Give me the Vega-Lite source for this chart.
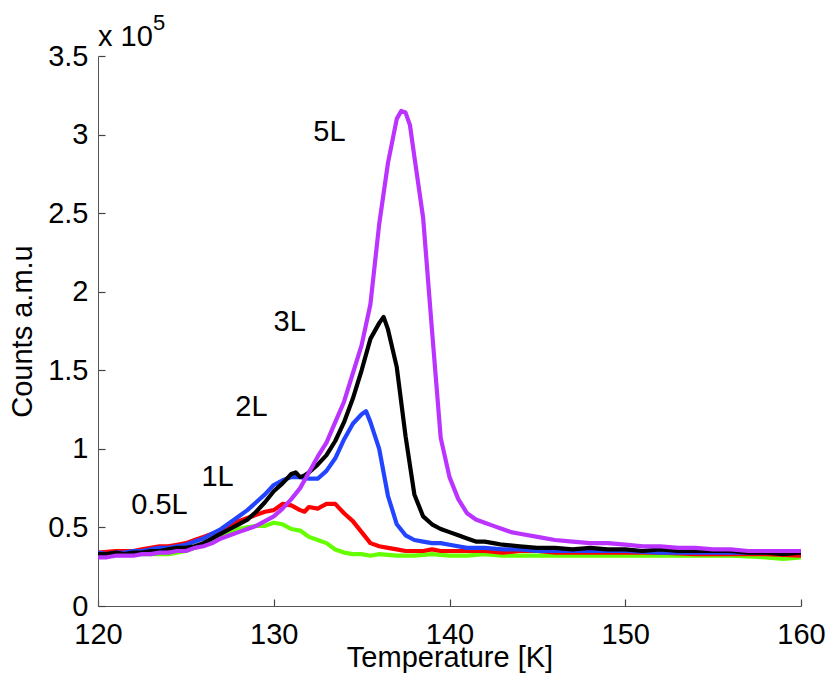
{
  "$schema": "https://vega.github.io/schema/vega-lite/v6.json",
  "autosize": {"type": "none"},
  "padding": {"left": 98, "top": 56, "right": 29, "bottom": 76},
  "width": 703,
  "height": 550,
  "background": "white",
  "config": {
    "view": {"stroke": null},
    "font": "Liberation Sans",
    "axis": {
      "grid": false,
      "labelFlush": false,
      "domainColor": "#555555",
      "domainWidth": 1,
      "tickColor": "#444444",
      "tickWidth": 1.2,
      "tickSize": -7,
      "labelFont": "Liberation Sans",
      "labelFontSize": 29,
      "labelColor": "black",
      "titleFont": "Liberation Sans",
      "titleFontSize": 29,
      "titleFontWeight": "normal",
      "titleColor": "black"
    }
  },
  "datasets": {
    "curves": [
      {"series": "0.5L", "T": 120, "counts": 0.33},
      {"series": "0.5L", "T": 121, "counts": 0.34},
      {"series": "0.5L", "T": 122, "counts": 0.33},
      {"series": "0.5L", "T": 123, "counts": 0.33},
      {"series": "0.5L", "T": 123.5, "counts": 0.33},
      {"series": "0.5L", "T": 124, "counts": 0.33},
      {"series": "0.5L", "T": 124.5, "counts": 0.34},
      {"series": "0.5L", "T": 125, "counts": 0.35},
      {"series": "0.5L", "T": 125.5, "counts": 0.37},
      {"series": "0.5L", "T": 126, "counts": 0.39},
      {"series": "0.5L", "T": 126.5, "counts": 0.42},
      {"series": "0.5L", "T": 127, "counts": 0.45},
      {"series": "0.5L", "T": 127.5, "counts": 0.47},
      {"series": "0.5L", "T": 128, "counts": 0.49},
      {"series": "0.5L", "T": 128.5, "counts": 0.5},
      {"series": "0.5L", "T": 129, "counts": 0.51},
      {"series": "0.5L", "T": 129.5, "counts": 0.51},
      {"series": "0.5L", "T": 130, "counts": 0.53},
      {"series": "0.5L", "T": 130.5, "counts": 0.52},
      {"series": "0.5L", "T": 131, "counts": 0.49},
      {"series": "0.5L", "T": 131.5, "counts": 0.48},
      {"series": "0.5L", "T": 132, "counts": 0.44},
      {"series": "0.5L", "T": 132.5, "counts": 0.42},
      {"series": "0.5L", "T": 133, "counts": 0.4},
      {"series": "0.5L", "T": 133.5, "counts": 0.36},
      {"series": "0.5L", "T": 134, "counts": 0.34},
      {"series": "0.5L", "T": 134.5, "counts": 0.33},
      {"series": "0.5L", "T": 135, "counts": 0.33},
      {"series": "0.5L", "T": 135.5, "counts": 0.32},
      {"series": "0.5L", "T": 136, "counts": 0.33},
      {"series": "0.5L", "T": 137, "counts": 0.32},
      {"series": "0.5L", "T": 138, "counts": 0.32},
      {"series": "0.5L", "T": 139, "counts": 0.33},
      {"series": "0.5L", "T": 140, "counts": 0.32},
      {"series": "0.5L", "T": 141, "counts": 0.32},
      {"series": "0.5L", "T": 142, "counts": 0.33},
      {"series": "0.5L", "T": 143, "counts": 0.32},
      {"series": "0.5L", "T": 144, "counts": 0.32},
      {"series": "0.5L", "T": 146, "counts": 0.32},
      {"series": "0.5L", "T": 148, "counts": 0.32},
      {"series": "0.5L", "T": 150, "counts": 0.32},
      {"series": "0.5L", "T": 152, "counts": 0.32},
      {"series": "0.5L", "T": 154, "counts": 0.32},
      {"series": "0.5L", "T": 156, "counts": 0.32},
      {"series": "0.5L", "T": 158, "counts": 0.31},
      {"series": "0.5L", "T": 159, "counts": 0.3},
      {"series": "0.5L", "T": 160, "counts": 0.31},

      {"series": "1L", "T": 120, "counts": 0.34},
      {"series": "1L", "T": 121, "counts": 0.35},
      {"series": "1L", "T": 122, "counts": 0.35},
      {"series": "1L", "T": 122.5, "counts": 0.36},
      {"series": "1L", "T": 123, "counts": 0.37},
      {"series": "1L", "T": 123.5, "counts": 0.38},
      {"series": "1L", "T": 124, "counts": 0.38},
      {"series": "1L", "T": 124.5, "counts": 0.39},
      {"series": "1L", "T": 125, "counts": 0.4},
      {"series": "1L", "T": 125.5, "counts": 0.42},
      {"series": "1L", "T": 126, "counts": 0.44},
      {"series": "1L", "T": 126.5, "counts": 0.46},
      {"series": "1L", "T": 127, "counts": 0.48},
      {"series": "1L", "T": 127.5, "counts": 0.51},
      {"series": "1L", "T": 128, "counts": 0.54},
      {"series": "1L", "T": 128.5, "counts": 0.56},
      {"series": "1L", "T": 129, "counts": 0.58},
      {"series": "1L", "T": 129.5, "counts": 0.6},
      {"series": "1L", "T": 130, "counts": 0.61},
      {"series": "1L", "T": 130.5, "counts": 0.65},
      {"series": "1L", "T": 131, "counts": 0.64},
      {"series": "1L", "T": 131.5, "counts": 0.61},
      {"series": "1L", "T": 131.75, "counts": 0.6},
      {"series": "1L", "T": 132, "counts": 0.63},
      {"series": "1L", "T": 132.5, "counts": 0.62},
      {"series": "1L", "T": 133, "counts": 0.65},
      {"series": "1L", "T": 133.5, "counts": 0.65},
      {"series": "1L", "T": 134, "counts": 0.59},
      {"series": "1L", "T": 134.5, "counts": 0.54},
      {"series": "1L", "T": 135, "counts": 0.47},
      {"series": "1L", "T": 135.5, "counts": 0.4},
      {"series": "1L", "T": 136, "counts": 0.38},
      {"series": "1L", "T": 136.5, "counts": 0.37},
      {"series": "1L", "T": 137, "counts": 0.36},
      {"series": "1L", "T": 137.5, "counts": 0.35},
      {"series": "1L", "T": 138, "counts": 0.35},
      {"series": "1L", "T": 138.5, "counts": 0.35},
      {"series": "1L", "T": 139, "counts": 0.36},
      {"series": "1L", "T": 139.5, "counts": 0.35},
      {"series": "1L", "T": 140, "counts": 0.35},
      {"series": "1L", "T": 141, "counts": 0.35},
      {"series": "1L", "T": 142, "counts": 0.35},
      {"series": "1L", "T": 143, "counts": 0.34},
      {"series": "1L", "T": 144, "counts": 0.35},
      {"series": "1L", "T": 145, "counts": 0.35},
      {"series": "1L", "T": 146, "counts": 0.34},
      {"series": "1L", "T": 147, "counts": 0.34},
      {"series": "1L", "T": 148, "counts": 0.34},
      {"series": "1L", "T": 150, "counts": 0.34},
      {"series": "1L", "T": 152, "counts": 0.34},
      {"series": "1L", "T": 154, "counts": 0.33},
      {"series": "1L", "T": 156, "counts": 0.33},
      {"series": "1L", "T": 158, "counts": 0.33},
      {"series": "1L", "T": 160, "counts": 0.32},

      {"series": "2L", "T": 120, "counts": 0.34},
      {"series": "2L", "T": 120.5, "counts": 0.33},
      {"series": "2L", "T": 121, "counts": 0.34},
      {"series": "2L", "T": 121.5, "counts": 0.34},
      {"series": "2L", "T": 122, "counts": 0.35},
      {"series": "2L", "T": 122.5, "counts": 0.35},
      {"series": "2L", "T": 123, "counts": 0.36},
      {"series": "2L", "T": 123.5, "counts": 0.37},
      {"series": "2L", "T": 124, "counts": 0.37},
      {"series": "2L", "T": 124.5, "counts": 0.38},
      {"series": "2L", "T": 125, "counts": 0.39},
      {"series": "2L", "T": 125.5, "counts": 0.41},
      {"series": "2L", "T": 126, "counts": 0.43},
      {"series": "2L", "T": 126.5, "counts": 0.46},
      {"series": "2L", "T": 127, "counts": 0.49},
      {"series": "2L", "T": 127.5, "counts": 0.53},
      {"series": "2L", "T": 128, "counts": 0.57},
      {"series": "2L", "T": 128.5, "counts": 0.61},
      {"series": "2L", "T": 129, "counts": 0.66},
      {"series": "2L", "T": 129.5, "counts": 0.71},
      {"series": "2L", "T": 130, "counts": 0.77},
      {"series": "2L", "T": 130.5, "counts": 0.8},
      {"series": "2L", "T": 131, "counts": 0.82},
      {"series": "2L", "T": 131.5, "counts": 0.82},
      {"series": "2L", "T": 132, "counts": 0.81},
      {"series": "2L", "T": 132.5, "counts": 0.81},
      {"series": "2L", "T": 133, "counts": 0.86},
      {"series": "2L", "T": 133.5, "counts": 0.94},
      {"series": "2L", "T": 134, "counts": 1.06},
      {"series": "2L", "T": 134.5, "counts": 1.16},
      {"series": "2L", "T": 135, "counts": 1.22},
      {"series": "2L", "T": 135.25, "counts": 1.24},
      {"series": "2L", "T": 135.5, "counts": 1.17},
      {"series": "2L", "T": 136, "counts": 1.0},
      {"series": "2L", "T": 136.5, "counts": 0.7},
      {"series": "2L", "T": 137, "counts": 0.52},
      {"series": "2L", "T": 137.5, "counts": 0.45},
      {"series": "2L", "T": 138, "counts": 0.42},
      {"series": "2L", "T": 138.5, "counts": 0.41},
      {"series": "2L", "T": 139, "counts": 0.4},
      {"series": "2L", "T": 139.5, "counts": 0.4},
      {"series": "2L", "T": 140, "counts": 0.39},
      {"series": "2L", "T": 141, "counts": 0.37},
      {"series": "2L", "T": 142, "counts": 0.37},
      {"series": "2L", "T": 143, "counts": 0.36},
      {"series": "2L", "T": 144, "counts": 0.36},
      {"series": "2L", "T": 145, "counts": 0.35},
      {"series": "2L", "T": 146, "counts": 0.35},
      {"series": "2L", "T": 147, "counts": 0.35},
      {"series": "2L", "T": 148, "counts": 0.35},
      {"series": "2L", "T": 150, "counts": 0.35},
      {"series": "2L", "T": 152, "counts": 0.34},
      {"series": "2L", "T": 154, "counts": 0.34},
      {"series": "2L", "T": 156, "counts": 0.34},
      {"series": "2L", "T": 158, "counts": 0.34},
      {"series": "2L", "T": 160, "counts": 0.34},

      {"series": "3L", "T": 120, "counts": 0.33},
      {"series": "3L", "T": 120.5, "counts": 0.33},
      {"series": "3L", "T": 121, "counts": 0.34},
      {"series": "3L", "T": 121.5, "counts": 0.33},
      {"series": "3L", "T": 122, "counts": 0.34},
      {"series": "3L", "T": 122.5, "counts": 0.34},
      {"series": "3L", "T": 123, "counts": 0.35},
      {"series": "3L", "T": 123.5, "counts": 0.35},
      {"series": "3L", "T": 124, "counts": 0.36},
      {"series": "3L", "T": 124.5, "counts": 0.37},
      {"series": "3L", "T": 125, "counts": 0.37},
      {"series": "3L", "T": 125.5, "counts": 0.38},
      {"series": "3L", "T": 126, "counts": 0.4},
      {"series": "3L", "T": 126.5, "counts": 0.43},
      {"series": "3L", "T": 127, "counts": 0.46},
      {"series": "3L", "T": 127.5, "counts": 0.49},
      {"series": "3L", "T": 128, "counts": 0.52},
      {"series": "3L", "T": 128.5, "counts": 0.55},
      {"series": "3L", "T": 129, "counts": 0.6},
      {"series": "3L", "T": 129.5, "counts": 0.66},
      {"series": "3L", "T": 130, "counts": 0.73},
      {"series": "3L", "T": 130.5, "counts": 0.78},
      {"series": "3L", "T": 131, "counts": 0.84},
      {"series": "3L", "T": 131.25, "counts": 0.85},
      {"series": "3L", "T": 131.5, "counts": 0.82},
      {"series": "3L", "T": 131.75, "counts": 0.83},
      {"series": "3L", "T": 132, "counts": 0.85},
      {"series": "3L", "T": 132.5, "counts": 0.9},
      {"series": "3L", "T": 133, "counts": 0.96},
      {"series": "3L", "T": 133.5, "counts": 1.05},
      {"series": "3L", "T": 134, "counts": 1.17},
      {"series": "3L", "T": 134.5, "counts": 1.32},
      {"series": "3L", "T": 135, "counts": 1.5},
      {"series": "3L", "T": 135.5, "counts": 1.7},
      {"series": "3L", "T": 136, "counts": 1.8},
      {"series": "3L", "T": 136.25, "counts": 1.84},
      {"series": "3L", "T": 136.5, "counts": 1.76},
      {"series": "3L", "T": 137, "counts": 1.52},
      {"series": "3L", "T": 137.5, "counts": 1.08},
      {"series": "3L", "T": 138, "counts": 0.71},
      {"series": "3L", "T": 138.5, "counts": 0.57},
      {"series": "3L", "T": 139, "counts": 0.52},
      {"series": "3L", "T": 139.5, "counts": 0.49},
      {"series": "3L", "T": 140, "counts": 0.47},
      {"series": "3L", "T": 140.5, "counts": 0.45},
      {"series": "3L", "T": 141, "counts": 0.43},
      {"series": "3L", "T": 141.5, "counts": 0.41},
      {"series": "3L", "T": 142, "counts": 0.41},
      {"series": "3L", "T": 142.5, "counts": 0.4},
      {"series": "3L", "T": 143, "counts": 0.39},
      {"series": "3L", "T": 144, "counts": 0.38},
      {"series": "3L", "T": 145, "counts": 0.37},
      {"series": "3L", "T": 146, "counts": 0.37},
      {"series": "3L", "T": 147, "counts": 0.36},
      {"series": "3L", "T": 148, "counts": 0.37},
      {"series": "3L", "T": 149, "counts": 0.36},
      {"series": "3L", "T": 150, "counts": 0.36},
      {"series": "3L", "T": 151, "counts": 0.35},
      {"series": "3L", "T": 152, "counts": 0.36},
      {"series": "3L", "T": 153, "counts": 0.35},
      {"series": "3L", "T": 154, "counts": 0.35},
      {"series": "3L", "T": 155, "counts": 0.35},
      {"series": "3L", "T": 156, "counts": 0.35},
      {"series": "3L", "T": 157, "counts": 0.34},
      {"series": "3L", "T": 158, "counts": 0.34},
      {"series": "3L", "T": 159, "counts": 0.33},
      {"series": "3L", "T": 160, "counts": 0.34},

      {"series": "5L", "T": 120, "counts": 0.31},
      {"series": "5L", "T": 120.5, "counts": 0.31},
      {"series": "5L", "T": 121, "counts": 0.32},
      {"series": "5L", "T": 121.5, "counts": 0.32},
      {"series": "5L", "T": 122, "counts": 0.32},
      {"series": "5L", "T": 122.5, "counts": 0.33},
      {"series": "5L", "T": 123, "counts": 0.33},
      {"series": "5L", "T": 123.5, "counts": 0.34},
      {"series": "5L", "T": 124, "counts": 0.34},
      {"series": "5L", "T": 124.5, "counts": 0.35},
      {"series": "5L", "T": 125, "counts": 0.35},
      {"series": "5L", "T": 125.5, "counts": 0.37},
      {"series": "5L", "T": 126, "counts": 0.38},
      {"series": "5L", "T": 126.5, "counts": 0.4},
      {"series": "5L", "T": 127, "counts": 0.43},
      {"series": "5L", "T": 127.5, "counts": 0.45},
      {"series": "5L", "T": 128, "counts": 0.47},
      {"series": "5L", "T": 128.5, "counts": 0.49},
      {"series": "5L", "T": 129, "counts": 0.51},
      {"series": "5L", "T": 129.5, "counts": 0.54},
      {"series": "5L", "T": 130, "counts": 0.57},
      {"series": "5L", "T": 130.5, "counts": 0.62},
      {"series": "5L", "T": 131, "counts": 0.68},
      {"series": "5L", "T": 131.5, "counts": 0.75},
      {"series": "5L", "T": 132, "counts": 0.85},
      {"series": "5L", "T": 132.5, "counts": 0.95},
      {"series": "5L", "T": 133, "counts": 1.04},
      {"series": "5L", "T": 133.5, "counts": 1.17},
      {"series": "5L", "T": 134, "counts": 1.3},
      {"series": "5L", "T": 134.5, "counts": 1.48},
      {"series": "5L", "T": 135, "counts": 1.66},
      {"series": "5L", "T": 135.5, "counts": 1.92},
      {"series": "5L", "T": 136, "counts": 2.43},
      {"series": "5L", "T": 136.5, "counts": 2.82},
      {"series": "5L", "T": 137, "counts": 3.1},
      {"series": "5L", "T": 137.25, "counts": 3.15},
      {"series": "5L", "T": 137.5, "counts": 3.14},
      {"series": "5L", "T": 137.75, "counts": 3.06},
      {"series": "5L", "T": 138, "counts": 2.86},
      {"series": "5L", "T": 138.5, "counts": 2.47},
      {"series": "5L", "T": 139, "counts": 1.76},
      {"series": "5L", "T": 139.5, "counts": 1.07},
      {"series": "5L", "T": 140, "counts": 0.82},
      {"series": "5L", "T": 140.5, "counts": 0.68},
      {"series": "5L", "T": 141, "counts": 0.59},
      {"series": "5L", "T": 141.5, "counts": 0.55},
      {"series": "5L", "T": 142, "counts": 0.53},
      {"series": "5L", "T": 142.5, "counts": 0.51},
      {"series": "5L", "T": 143, "counts": 0.49},
      {"series": "5L", "T": 143.5, "counts": 0.47},
      {"series": "5L", "T": 144, "counts": 0.46},
      {"series": "5L", "T": 145, "counts": 0.44},
      {"series": "5L", "T": 146, "counts": 0.42},
      {"series": "5L", "T": 147, "counts": 0.41},
      {"series": "5L", "T": 148, "counts": 0.4},
      {"series": "5L", "T": 149, "counts": 0.4},
      {"series": "5L", "T": 150, "counts": 0.39},
      {"series": "5L", "T": 151, "counts": 0.38},
      {"series": "5L", "T": 152, "counts": 0.38},
      {"series": "5L", "T": 153, "counts": 0.37},
      {"series": "5L", "T": 154, "counts": 0.37},
      {"series": "5L", "T": 155, "counts": 0.36},
      {"series": "5L", "T": 156, "counts": 0.36},
      {"series": "5L", "T": 157, "counts": 0.35},
      {"series": "5L", "T": 158, "counts": 0.35},
      {"series": "5L", "T": 159, "counts": 0.35},
      {"series": "5L", "T": 160, "counts": 0.35}
    ],
    "labels": [
      {"label": "0.5L", "T": 123.5, "counts": 0.645},
      {"label": "1L", "T": 126.8, "counts": 0.823},
      {"label": "2L", "T": 128.73, "counts": 1.267},
      {"label": "3L", "T": 130.91, "counts": 1.807},
      {"label": "5L", "T": 133.17, "counts": 3.015}
    ]
  },
  "layer": [
    {
      "data": {"name": "curves"},
      "mark": {"type": "line", "strokeWidth": 4.2, "strokeJoin": "round", "clip": true},
      "encoding": {
        "x": {
          "field": "T",
          "type": "quantitative",
          "title": "Temperature [K]",
          "scale": {"domain": [120, 160], "nice": false, "zero": false},
          "axis": {"values": [120, 130, 140, 150, 160], "format": "d", "labelPadding": 21, "titlePadding": -6}
        },
        "y": {
          "field": "counts",
          "type": "quantitative",
          "title": "Counts a.m.u",
          "scale": {"domain": [0, 3.5], "nice": false},
          "axis": {"values": [0, 0.5, 1, 1.5, 2, 2.5, 3, 3.5], "format": "~g", "labelPadding": 17, "titlePadding": 10}
        },
        "color": {
          "field": "series",
          "type": "nominal",
          "scale": {
            "domain": ["0.5L", "1L", "2L", "3L", "5L"],
            "range": ["#66ff00", "#ff0000", "#2244ff", "#000000", "#bb33ff"]
          },
          "legend": null
        }
      }
    },
    {
      "data": {"name": "labels"},
      "mark": {"type": "text", "fontSize": 29, "font": "Liberation Sans", "color": "black", "align": "center", "baseline": "middle"},
      "encoding": {
        "x": {"field": "T", "type": "quantitative"},
        "y": {"field": "counts", "type": "quantitative"},
        "text": {"field": "label"}
      }
    },
    {
      "data": {"values": [{}]},
      "mark": {"type": "text", "text": "x 10", "fontSize": 29, "font": "Liberation Sans", "color": "black", "align": "left", "baseline": "alphabetic", "dy": -10},
      "encoding": {
        "x": {"datum": 120},
        "y": {"datum": 3.5}
      }
    },
    {
      "data": {"values": [{}]},
      "mark": {"type": "text", "text": "5", "fontSize": 22, "font": "Liberation Sans", "color": "black", "align": "left", "baseline": "alphabetic", "dx": 55, "dy": -26},
      "encoding": {
        "x": {"datum": 120},
        "y": {"datum": 3.5}
      }
    }
  ]
}
